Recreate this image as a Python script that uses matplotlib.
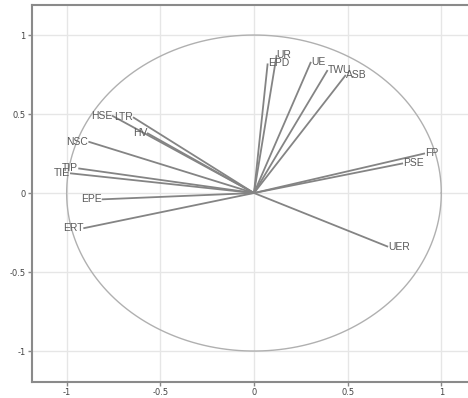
import matplotlib
matplotlib.use("Agg")
import matplotlib.pyplot as plt
import numpy as np

labels = ["UR", "EPD", "UE", "TWU", "ASB", "FP", "PSE", "UER",
          "HSE", "LTR", "HV", "NSC", "TIP", "TIE", "EPE", "ERT"]
xs = [0.121, 0.073, 0.304, 0.393, 0.490, 0.913, 0.796, 0.716,
      -0.758, -0.646, -0.571, -0.884, -0.938, -0.982, -0.813, -0.911]
ys = [0.873, 0.820, 0.830, 0.778, 0.747, 0.251, 0.188, -0.340,
      0.490, 0.480, 0.380, 0.325, 0.156, 0.125, -0.040, -0.223]
ticks = [-1, -0.5, 0, 0.5, 1]
tick_labels = ["-1", "-0.5", "0", "0.5", "1"]

fig = plt.figure(figsize=(4.68, 3.98), dpi=100)
ax = fig.add_axes([0.0684, 0.0402, 1 - 0.0684, 0.9874 - 0.0402])
ax.set_xlim(-1.185, 1.1425)
ax.set_ylim(-1.196, 1.19)

ax.set_xticks(ticks)
ax.set_xticklabels(tick_labels)
ax.set_yticks(ticks)
ax.set_yticklabels(tick_labels)
ax.grid(True, color="#e6e6e6", lw=1.0, zorder=0)
ax.set_axisbelow(True)
ax.tick_params(axis="both", labelsize=6, colors="#888888", labelcolor="#444444",
               length=3, width=1, pad=1.5)

for s in ["left", "bottom", "top"]:
    ax.spines[s].set_color("#8a8a8a")
    ax.spines[s].set_linewidth(1.5)
ax.spines["right"].set_visible(False)

t = np.linspace(0, 2 * np.pi, 400)
ax.plot(np.cos(t), np.sin(t), color="#b0b0b0", lw=1.0, zorder=1)

for lab, x, y in zip(labels, xs, ys):
    ax.plot([0, x], [0, y], color="#848484", lw=1.3, zorder=2,
            solid_capstyle="butt")
    ha = "left" if x > 0 else "right"
    ax.text(x, y, lab, ha=ha, va="center", fontsize=7.5, color="#5a5a5a",
            family=["Liberation Sans", "DejaVu Sans"], zorder=3)

fig.savefig("out.png", dpi=100)
